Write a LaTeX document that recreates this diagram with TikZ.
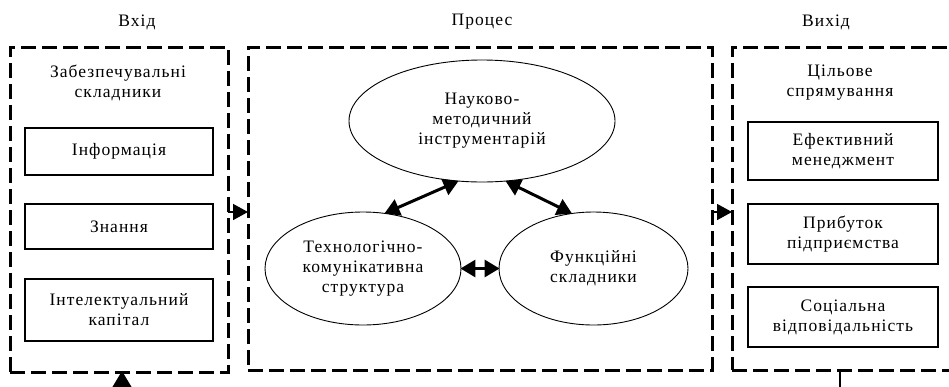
\documentclass[tikz,border=0pt]{standalone}
\usepackage{fontspec}
\setmainfont{Liberation Serif}[LetterSpace=6]
\usetikzlibrary{arrows.meta,shapes.geometric}
\tikzset{
  zone/.style={draw, line width=3pt, dash pattern=on 15pt off 6pt},
  item/.style={draw, line width=1.1pt, align=center, inner sep=0pt},
  oval/.style={draw, ellipse, line width=0.9pt, align=center, inner sep=0pt},
  label/.style={align=center, inner sep=0pt},
  link/.style={line width=3pt, {Triangle[length=15pt,width=17pt]}-{Triangle[length=15pt,width=17pt]}, shorten <=-1pt, shorten >=-1pt},
  flow/.style={line width=1.6pt, -{Triangle[length=15pt,width=16pt]}},
  feed/.style={line width=1.6pt, -{Triangle[length=17pt,width=20pt]}}
}
\begin{document}
\begin{tikzpicture}[x=1pt,y=-1pt,font=\fontsize{17.5}{20}\selectfont]
\clip (0,0) rectangle (949,386);
\fill[white] (0,0) rectangle (949,386);
% titles
\node[label] (tin) at (137,22) {Вхід};
\node[label] (tproc) at (482,22) {Процес};
\node[label] (tout) at (826,22) {Вихід};
% zones
\node[zone, minimum width=218pt, minimum height=325pt, inner sep=0pt] (zin) at (119,209.5) {};
\node[zone, minimum width=464pt, minimum height=323pt, inner sep=0pt] (zproc) at (480,208.5) {};
\node[zone, minimum width=240pt, minimum height=323pt, inner sep=0pt] (zout) at (852,208.5) {};
% left content
\node[label] (lhead) at (118,83) {Забезпечувальні\\складники};
\node[item, minimum width=188pt, minimum height=47pt] (b1) at (119,151.5) {Інформація};
\node[item, minimum width=188pt, minimum height=45pt] (b2) at (119,226.5) {Знання};
\node[item, minimum width=188pt, minimum height=62pt] (b3) at (119,310) {Інтелектуальний\\капітал};
% right content
\node[label] (rhead) at (840,83) {Цільове\\спрямування};
\node[item, minimum width=190pt, minimum height=58pt] (c1) at (843,151) {Ефективний\\менеджмент};
\node[item, minimum width=190pt, minimum height=60pt] (c2) at (843,234) {Прибуток\\підприємства};
\node[item, minimum width=190pt, minimum height=60pt] (c3) at (843,317) {Соціальна\\відповідальність};
% ellipses
\node[oval, minimum width=266pt, minimum height=122pt] (e1) at (482,121) {Науково-\\методичний\\інструментарій};
\node[oval, minimum width=196pt, minimum height=113pt] (e2) at (363,268.5) {Технологічно-\\комунікативна\\структура};
\node[oval, minimum width=189pt, minimum height=113pt] (e3) at (593.5,268.5) {Функційні\\складники};
% links
\draw[link] (e1.-112) -- (e2.68);
\draw[link] (e1.-68) -- (e3.112);
\draw[link] (e2.east) -- (e3.west);
% flow arrows
\coordinate (fa) at (228,212);
\coordinate (fb) at (248,212);
\coordinate (fc) at (712,212);
\coordinate (fd) at (732,212);
\draw[flow] (fa) -- (fb);
\draw[flow] (fc) -- (fd);
% feedback
\coordinate (bl) at (122,400);
\coordinate (bl2) at (122,371);
\coordinate (br) at (840,371);
\coordinate (br2) at (840,400);
\draw[feed] (bl) -- (bl2);
\draw[line width=1.5pt] (br) -- (br2);
\end{tikzpicture}
\end{document}
